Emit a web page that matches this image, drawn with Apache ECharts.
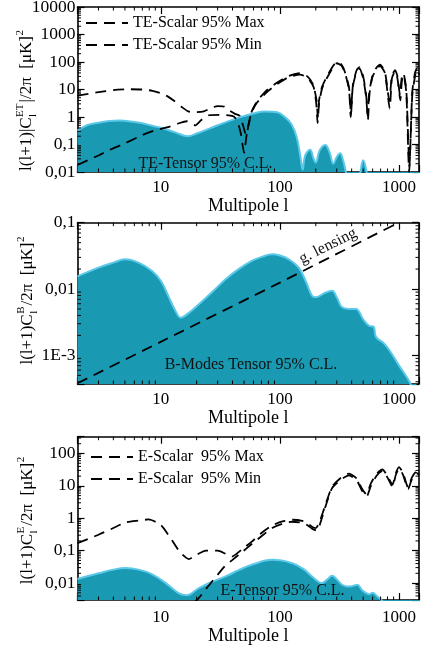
<!DOCTYPE html>
<html><head><meta charset="utf-8">
<script src="https://cdn.jsdelivr.net/npm/echarts@6/dist/echarts.min.js"></script>
<style>html,body{margin:0;padding:0;background:#fff}#c{width:424px;height:647px}</style>
</head><body><div id="c"></div>
<script>
// ---------- data ----------
const teScalarMax = [[2,6],[3,8],[4,9.5],[5.5,10.2],[7,10],[8.5,9],[10,7.3],[11.5,5.5],[13,3.8],[15,2.3],[17,1.6],[20,1.5],[23,1.6],[27,2.2],[30,2.5],[34,2.4],[38,1.7],[42,1.3],[46,1.1],[49,0.5],[52,0.22],[55,0.6],[58,1.6],[65,4],[78,9.6],[95,18],[114,29],[147,39],[170,30],[190,15],[203,4],[208,1.0],[213,4],[225,12],[247,29],[275,65],[300,100],[325,85],[350,45],[380,12],[395,1.3],[410,15],[440,50],[465,65],[500,30],[530,6],[545,1.1],[562,8],[600,32],[650,65],[692,80],[760,45],[828,4],[870,30],[925,51],[970,30],[1018,6.3],[1050,25],[1086,40],[1150,10],[1221,0.016],[1290,8],[1360,40],[1420,60],[1480,45]];
const teScalarMin = [[2,0.018],[3,0.04],[3.7,0.063],[5,0.11],[7,0.22],[9,0.33],[11.7,0.44],[14,0.58],[16.5,0.7],[19.5,0.5],[22,0.8],[25,1.15],[31,1.2],[37,1.15],[41,1.05],[44,0.7],[47,0.25],[50,0.05],[53,0.3],[57,1.2],[63,3],[80,9],[114,26],[147,35],[172,26],[192,12],[202,3],[207,0.6],[213,3],[226,11],[250,28],[300,90],[328,75],[352,40],[380,10],[393,1.0],[408,12],[440,45],[465,58],[500,25],[530,5],[548,0.8],[565,7],[600,30],[692,72],[760,40],[835,2],[870,25],[925,45],[970,25],[1025,4],[1055,20],[1090,32],[1150,8],[1215,0.01],[1290,6],[1370,35],[1420,50],[1480,35]];
const teTensor = [[2,0.32],[2.4,0.5],[3,0.62],[3.7,0.72],[4.5,0.74],[6,0.66],[7,0.59],[8.5,0.48],[10.3,0.39],[13.4,0.27],[16.8,0.2],[20,0.25],[30,0.5],[45,0.95],[60,1.35],[75,1.6],[95,1.5],[110,1.0],[125,0.55],[138,0.19],[148,0.04],[155,0.012],[163,0.04],[179,0.065],[192,0.03],[200,0.022],[215,0.06],[240,0.096],[262,0.05],[280,0.02],[300,0.035],[320,0.048],[340,0.025],[360,0.009],[400,0.002],[460,0.006],[500,0.027],[540,0.008],[570,0.002],[650,0.001],[1500,0.001]];

const bTensor = [[2,0.0155],[3,0.021],[4,0.025],[5,0.028],[6.5,0.025],[8.4,0.0188],[10,0.0133],[11.7,0.0075],[13.2,0.0048],[14.7,0.0037],[17,0.0043],[20.9,0.0059],[27,0.009],[35,0.0141],[45,0.02],[58,0.0266],[72,0.031],[86,0.0334],[100,0.032],[119,0.028],[144,0.021],[165,0.013],[186,0.0079],[200,0.0075],[240,0.0088],[274,0.0094],[300,0.0075],[334,0.0053],[400,0.005],[435,0.005],[500,0.0035],[560,0.0028],[612,0.0027],[640,0.0019],[750,0.0015],[870,0.00105],[1000,0.0007],[1150,0.00048],[1260,0.00035],[1400,0.0001]];
const bLensing = [[2,3.8e-4],[10,1.6e-3],[100,0.0125],[900,0.092]];

const eScalarMax = [[2,0.17],[3,0.31],[4,0.5],[5.1,0.75],[6.5,0.85],[7.9,0.92],[10,0.62],[12.4,0.21],[14.5,0.09],[17.2,0.055],[20,0.075],[24,0.1],[30,0.1],[35,0.08],[39.5,0.066],[48,0.11],[58,0.19],[70,0.35],[86,0.6],[105,0.8],[127,0.9],[160,0.8],[186,0.55],[200,0.5],[213,0.7],[240,2.5],[274,9.4],[320,17],[380,24],[440,17],[490,8],[530,5.5],[580,12],[650,24],[725,32],[800,20],[880,11],[940,25],[1000,38],[1080,25],[1190,9],[1280,18],[1400,28],[1480,25]];
const eScalarMin = [[15,0.001],[20.9,0.0035],[25,0.008],[30,0.018],[35,0.035],[39.5,0.05],[48,0.09],[58,0.16],[70,0.28],[86,0.5],[105,0.68],[127,0.78],[160,0.7],[186,0.48],[203,0.42],[215,0.6],[240,2.2],[274,8.5],[320,15],[380,21],[440,15],[490,7],[535,4.8],[580,10],[650,21],[725,29],[800,18],[880,9.5],[940,22],[1000,34],[1080,22],[1190,8],[1280,16],[1400,25],[1480,22]];
const eTensor = [[2,0.0133],[3,0.02],[4,0.026],[5.1,0.029],[6.5,0.026],[8.4,0.019],[11,0.01],[14.1,0.0049],[16.5,0.0042],[20.9,0.007],[27,0.011],[35,0.016],[45,0.025],[58,0.0366],[86,0.052],[127,0.041],[160,0.026],[186,0.016],[226,0.01],[250,0.013],[274,0.0167],[300,0.013],[330,0.009],[364,0.0079],[400,0.008],[446,0.0089],[490,0.006],[530,0.0049],[560,0.0045],[600,0.005],[650,0.004],[710,0.003],[800,0.002],[1500,0.001]];

const xTicks = [10,100,1000];
const xTickLabels = ['10','100','1000'];
const yTicks1 = [0.01,0.1,1,10,100,1000,10000];
const yTickLabels1 = ['0,01','0,1','1','10','100','1000','10000'];
const yTicks2 = [0.001,0.01,0.1];
const yTickLabels2 = ['1E-3','0,01','0,1'];
const yTicks3 = [0.01,0.1,1,10,100];
const yTickLabels3 = ['0,01','0,1','1','10','100'];
const legend1 = ['TE-Scalar 95% Max','TE-Scalar 95% Min'];
const legend3 = ['E-Scalar  95% Max','E-Scalar  95% Min'];
const minorMult = [2,3,4,5,6,7,8,9];

// ---------- layout / style ----------
const FONT = '"Liberation Serif","Times New Roman",serif';
const FILL = '#1a9ab2', EDGE = '#5cc9eb';
const X_MIN = 2, X_MAX = 1470;
const MINOR = 3.5;
const panels = [
  {top:7, height:165, ymin:0.01, ymax:10000, ticks:yTicks1, labels:yTickLabels1, lm:7, ng:21},
  {top:222.7, height:161.3, ymin:3.7e-4, ymax:0.1, ticks:yTicks2, labels:yTickLabels2, lm:7, ng:22},
  {top:436.7, height:163.3, ymin:0.003, ymax:330, ticks:yTicks3, labels:yTickLabels3, lm:9, ng:25}
];

function lookup(ticks, labels){
  return v => { for (let i=0;i<ticks.length;i++){ if (Math.abs(Math.log10(v)-Math.log10(ticks[i]))<1e-6) return labels[i]; } return ''; };
}
function minorValues(lo, hi){
  const out=[];
  for (let d=-5; d<=4; d++) minorMult.forEach(m=>{ const v=m*Math.pow(10,d); if (v>lo*1.0001 && v<hi*0.9999) out.push(v); });
  return out;
}
const axLine = {show:true, onZero:false, lineStyle:{color:'#000', width:1.6}};
const axTick = {show:true, inside:true, length:7, lineStyle:{color:'#000', width:1.2}};

const grid=[], xAxis=[], yAxis=[], series=[];
panels.forEach((p,i)=>{
  grid.push({left:77.5, top:p.top, width:341.5, height:p.height, containLabel:false, outerBoundsMode:'none'});
  xAxis.push({type:'log', logBase:10, gridIndex:i, min:X_MIN, max:X_MAX, position:'bottom',
    axisLine:axLine, axisTick:axTick, splitLine:{show:false},
    axisLabel:{margin:p.lm, formatter:lookup(xTicks,xTickLabels), color:'#000', fontFamily:FONT, fontSize:17},
    name:'Multipole l', nameLocation:'middle', nameGap:p.ng, nameTextStyle:{fontFamily:FONT, fontSize:18, color:'#000'}});
  xAxis.push({type:'log', logBase:10, gridIndex:i, min:X_MIN, max:X_MAX, position:'top',
    axisLine:axLine, axisTick:axTick, splitLine:{show:false}, axisLabel:{show:false}});
  yAxis.push({type:'log', logBase:10, gridIndex:i, min:p.ymin, max:p.ymax, position:'left',
    axisLine:axLine, axisTick:axTick, splitLine:{show:false},
    axisLabel:{margin:2, formatter:lookup(p.ticks,p.labels), color:'#000', fontFamily:FONT, fontSize:17.5, showMinLabel:true, showMaxLabel:true}});
  yAxis.push({type:'log', logBase:10, gridIndex:i, min:p.ymin, max:p.ymax, position:'right',
    axisLine:axLine, axisTick:axTick, splitLine:{show:false}, axisLabel:{show:false}});
  // minor ticks (x)
  series.push({type:'custom', xAxisIndex:2*i, yAxisIndex:2*i, silent:true, z:6, clip:false,
    data: minorValues(X_MIN, X_MAX).map(v=>[v, p.ymin]),
    renderItem:(params, api)=>{
      const cs=params.coordSys; const x=api.coord([api.value(0), api.value(1)])[0];
      const b=cs.y+cs.height, t=cs.y;
      return {type:'group', children:[
        {type:'line', shape:{x1:x,y1:b,x2:x,y2:b-MINOR}, style:{stroke:'#000', lineWidth:1}},
        {type:'line', shape:{x1:x,y1:t,x2:x,y2:t+MINOR}, style:{stroke:'#000', lineWidth:1}}]};
    }});
  // minor ticks (y)
  series.push({type:'custom', xAxisIndex:2*i, yAxisIndex:2*i, silent:true, z:6, clip:false,
    data: minorValues(p.ymin, p.ymax).map(v=>[X_MIN, v]),
    renderItem:(params, api)=>{
      const cs=params.coordSys; const y=api.coord([api.value(0), api.value(1)])[1];
      const l=cs.x, r=cs.x+cs.width;
      return {type:'group', children:[
        {type:'line', shape:{x1:l,y1:y,x2:l+MINOR,y2:y}, style:{stroke:'#000', lineWidth:1}},
        {type:'line', shape:{x1:r,y1:y,x2:r-MINOR,y2:y}, style:{stroke:'#000', lineWidth:1}}]};
    }});
});

function fillSeries(name, data, gi){
  return {name, type:'line', xAxisIndex:2*gi, yAxisIndex:2*gi, data, symbol:'none', smooth:0.4, z:1,
    lineStyle:{color:EDGE, width:2}, areaStyle:{color:FILL, opacity:1, origin:'start'}, silent:true};
}
function dashSeries(name, data, gi){
  return {name, type:'line', xAxisIndex:2*gi, yAxisIndex:2*gi, data, symbol:'none', smooth:0.2, z:3, color:'#000',
    itemStyle:{color:'#000'}, lineStyle:{color:'#000', width:1.8, type:[11,7]}, silent:true};
}
series.push(fillSeries('TE-Tensor', teTensor, 0));
series.push(dashSeries(legend1[0], teScalarMax, 0));
series.push(dashSeries(legend1[1], teScalarMin, 0));
series.push(fillSeries('B-Tensor', bTensor, 1));
series.push(dashSeries('g. lensing', bLensing, 1));
series.push(fillSeries('E-Tensor', eTensor, 2));
series.push(dashSeries(legend3[0], eScalarMax, 2));
series.push(dashSeries(legend3[1], eScalarMin, 2));

// ---------- y titles with sub/superscripts ----------
const ctx = document.createElement('canvas').getContext('2d');
function measure(t, size){ ctx.font = size+'px "Liberation Serif"'; return ctx.measureText(t).width; }
function yTitle(cx, cy, parts){
  const items=[]; let total=0;
  parts.forEach(pt=>{
    if (pt.t){ items.push({text:pt.t, x:total, y:0, size:17}); total+=measure(pt.t,17); }
    else {
      const ws=pt.sup?measure(pt.sup,11):0, wb=pt.sub?measure(pt.sub,11):0;
      if (pt.sup) items.push({text:pt.sup, x:total+0.5, y:-7, size:11});
      if (pt.sub) items.push({text:pt.sub, x:total+0.5, y:6, size:11});
      total += Math.max(ws,wb)+1.5;
    }
  });
  return {type:'group', x:cx, y:cy, rotation:Math.PI/2, silent:true, children: items.map(it=>({
    type:'text', x:it.x-total/2, y:it.y,
    style:{text:it.text, fontFamily:'Liberation Serif', fontSize:it.size, fill:'#000',
      align:'left', verticalAlign:'middle', textAlign:'left', textVerticalAlign:'middle'}}))};
}
function label(text, x, y, rot){
  return {type:'text', x, y, rotation:rot||0, silent:true, z:10,
    style:{text, fontFamily:'Liberation Serif', fontSize:16, fill:'#111',
      align:'center', verticalAlign:'middle', textAlign:'center', textVerticalAlign:'middle'}};
}

const graphic = [
  yTitle(27, 100, [{t:'l(l+1)|C'},{sup:'ET', sub:'l'},{t:'|/2π  [μK]'},{sup:'2'}]),
  yTitle(28, 300, [{t:'l(l+1)C'},{sup:'B', sub:'l'},{t:'/2π  [μK]'},{sup:'2'}]),
  yTitle(28, 520, [{t:'l(l+1)C'},{sup:'E', sub:'l'},{t:'/2π  [μK]'},{sup:'2'}]),
  label('TE-Tensor 95% C.L.', 205.5, 164),
  label('B-Modes Tensor 95% C.L.', 251, 365),
  label('E-Tensor 95% C.L.', 282.5, 591),
  label('g. lensing', 328, 246, 0.464)
];

const legendStyle = {orient:'vertical', itemWidth:42, itemHeight:16, itemGap:6, padding:0, selectedMode:false,
  itemStyle:{color:'rgba(0,0,0,0)', borderColor:'rgba(0,0,0,0)', borderWidth:0, opacity:0},
  textStyle:{fontFamily:FONT, fontSize:16, color:'#000'}};

const chart = echarts.init(document.getElementById('c'), null, {renderer:'canvas'});
chart.setOption({
  animation:false, backgroundColor:'#fff',
  grid, xAxis, yAxis, series, graphic,
  legend:[
    Object.assign({data:legend1, left:85, top:15}, legendStyle),
    Object.assign({data:legend3, left:90, top:449}, legendStyle)
  ]
});
</script></body></html>
